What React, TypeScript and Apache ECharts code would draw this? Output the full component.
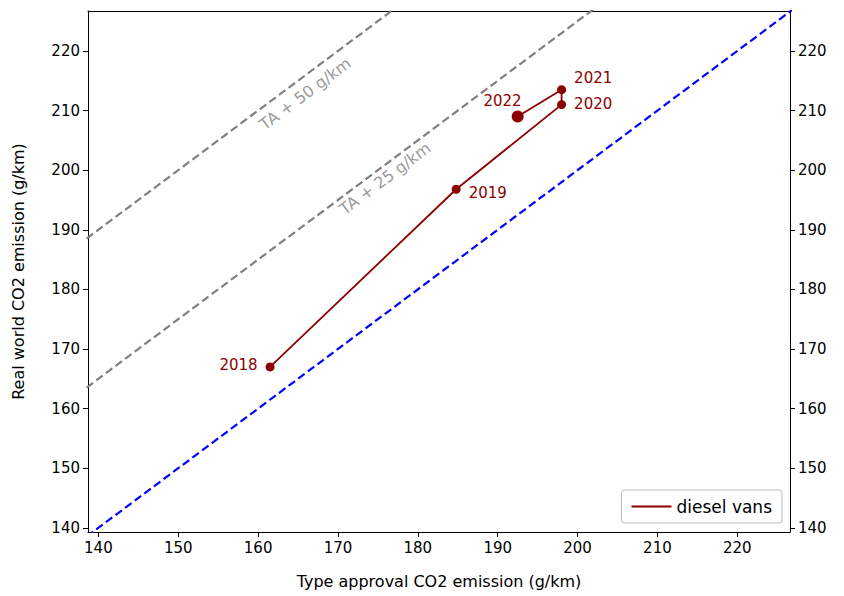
import { useEffect, useRef } from "react";
import * as echarts from "echarts";

const years = ["2018", "2019", "2020", "2021", "2022"];
const typeApproval = [161.5, 184.8, 198.0, 198.0, 192.5];
const realWorld = [167.0, 196.8, 211.0, 213.5, 209.0];
const tickValues = [140, 150, 160, 170, 180, 190, 200, 210, 220];
const labelPos = ["left", "right", "right", "right", "left"];
const labelOffsets = [[0, -2], [0, 4], [0, -1], [0, -12], [18, -16]];
const offsets = ["TA + 25 g/km", "TA + 50 g/km"];

const RED = "#8b0000";
const FONT = "DejaVu Sans";

export default function App() {
  const ref = useRef<HTMLDivElement>(null);

  useEffect(() => {
    if (!ref.current) return;
    document.body.style.margin = "0";
    const chart = echarts.init(ref.current, undefined, { renderer: "svg" });
    const tickStyle = { color: "#000", fontSize: 15, fontFamily: FONT };
    const axisCommon = {
      type: "value",
      min: 138.7,
      max: 226.6,
      splitLine: { show: false },
      axisLine: { show: true, onZero: false, lineStyle: { color: "#000" } },
      axisTick: { show: true, customValues: tickValues, length: 5, lineStyle: { color: "#000" } },
    };
    const yCommon = { ...axisCommon, min: 139.3, max: 226.7 };

    chart.setOption({
      animation: false,
      textStyle: { fontFamily: FONT },
      grid: { left: 88, right: 54, top: 11, bottom: 64 },
      xAxis: [
        {
          ...axisCommon,
          position: "bottom",
          name: "Type approval CO2 emission (g/km)",
          nameLocation: "middle",
          nameGap: 41,
          nameTextStyle: { color: "#000", fontSize: 16, fontFamily: FONT },
          axisLabel: { ...tickStyle, customValues: tickValues, margin: 8 },
        },
        { ...axisCommon, position: "top", axisTick: { show: false }, axisLabel: { show: false } },
      ],
      yAxis: [
        {
          ...yCommon,
          position: "left",
          name: "Real world CO2 emission (g/km)",
          nameLocation: "middle",
          nameGap: 62,
          nameTextStyle: { color: "#000", fontSize: 16, fontFamily: FONT },
          axisLabel: { ...tickStyle, customValues: tickValues, margin: 8 },
        },
        {
          ...yCommon,
          position: "right",
          axisLabel: { ...tickStyle, customValues: tickValues, margin: 8 },
        },
      ],
      legend: {
        data: ["diesel vans"],
        right: 62,
        bottom: 73,
        orient: "vertical",
        backgroundColor: "#fff",
        borderColor: "#bbb",
        borderWidth: 1,
        borderRadius: 3,
        padding: [8, 10],
        itemWidth: 40,
        itemGap: 14,
        itemHeight: 2,
        icon: "rect",
        textStyle: { fontSize: 17, color: "#000", fontFamily: FONT },
      },
      series: [
        {
          type: "line",
          data: [[100, 100], [260, 260]],
          symbol: "none",
          clip: true,
          lineStyle: { color: "#0000ff", type: [8, 4], width: 2.2 },
          silent: true,
        },
        ...[25, 50].map((d) => ({
          type: "line",
          data: [[100, 100 + d], [260, 260 + d]],
          symbol: "none",
          clip: true,
          lineStyle: { color: "#808080", type: [8, 4], width: 2.2 },
          silent: true,
        })),
        {
          type: "scatter",
          symbolSize: 0,
          silent: true,
          data: [
            { value: [175.9, 198.6], label: { formatter: offsets[0] } },
            { value: [165.9, 212.8], label: { formatter: offsets[1] } },
          ],
          label: {
            show: true,
            position: "inside",
            rotate: 36.7,
            color: "#808080",
            fontSize: 16,
            fontFamily: FONT,
          },
        },
        {
          name: "diesel vans",
          type: "line",
          data: typeApproval.map((x, i) => ({
            value: [x, realWorld[i]],
            symbolSize: i === 4 ? 12 : 9,
            label: {
              show: true,
              formatter: years[i],
              position: labelPos[i],
              offset: labelOffsets[i],
            },
          })),
          symbol: "circle",
          color: RED,
          lineStyle: { color: RED, width: 1.8 },
          itemStyle: { color: RED },
          label: { color: RED, fontSize: 15, fontFamily: FONT, distance: 8 },
        },
      ],
    });
    return () => chart.dispose();
  }, []);

  return <div ref={ref} style={{ width: 844, height: 596 }} />;
}
